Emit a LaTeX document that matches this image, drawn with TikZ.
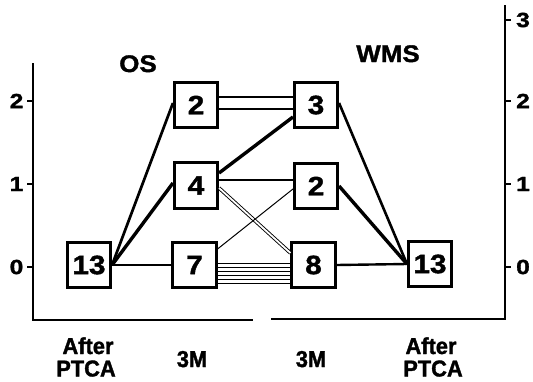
\documentclass[tikz,border=0pt]{standalone}
\usepackage{fontspec}
\setmainfont{Liberation Sans}
\newfontfamily\countfont[FakeStretch=1.12,FakeBold=1.5]{Liberation Sans}
\newfontfamily\tickfont[FakeStretch=1.2,FakeBold=1.5]{Liberation Sans}
\newfontfamily\titlefont[FakeStretch=1.08,FakeBold=1.5]{Liberation Sans}
\newfontfamily\capfont[FakeStretch=0.95,FakeBold=1.5]{Liberation Sans}
\begin{document}
\begin{tikzpicture}[x=1pt,y=-1pt,
  box/.style={draw,fill=white,line width=2.6pt,minimum width=43.5pt,minimum height=45.5pt,
    inner sep=0pt,font=\countfont\fontsize{26.5}{26.5}\selectfont\bfseries},
  axis/.style={line width=2.6pt},
  tick/.style={line width=2pt},
  ticklbl/.style={inner sep=0pt,font=\tickfont\fontsize{20.5}{20.5}\selectfont\bfseries},
  title/.style={inner sep=0pt,anchor=base,font=\titlefont\fontsize{24}{24}\selectfont\bfseries},
  caption/.style={inner sep=0pt,anchor=base,font=\capfont\fontsize{23}{23}\selectfont\bfseries},
  thick link/.style={line width=3.4pt},
  mid link/.style={line width=2.4pt},
  thin link/.style={line width=1pt}]
\useasboundingbox (0,0) rectangle (533,381);

% left axis (OS)
\draw[axis] (33,63) -- (33,320) -- (253,320);
\foreach \yy/\lab in {101/2,184/1,267/0}{
  \draw[tick] (27,\yy) -- (33,\yy);
  \node[ticklbl] at (16.5,\yy) {\lab};
}
% right axis (WMS)
\draw[axis] (271,319) -- (505,319) -- (505,5);
\foreach \yy/\lab in {20/3,101/2,184/1,267/0}{
  \draw[tick] (505,\yy) -- (511,\yy);
  \node[ticklbl] at (523,\yy) {\lab};
}

% group titles and time points
\node[title] (tos) at (138,72) {OS};
\node[title] (twms) at (388,62) {WMS};
\node[caption] (a1) at (88,354) {After};
\node[caption] (p1) at (86,376.5) {PTCA};
\node[caption] (m1) at (192,367) {3M};
\node[caption] (m2) at (311,367) {3M};
\node[caption] (a2) at (431,354) {After};
\node[caption] (p2) at (433,376.5) {PTCA};

% patient counts
\node[box] (l13) at (89,265) {13};
\node[box] (o2) at (196,105) {2};
\node[box] (o4) at (196,185.5) {4};
\node[box] (o7) at (194.5,265) {7};
\node[box] (w3) at (316,105) {3};
\node[box] (w2) at (316,186) {2};
\node[box] (w8) at (313.5,265) {8};
\node[box] (r13) at (430,264) {13};

% After PTCA -> OS 3M
\draw[mid link,line width=2.7pt] (l13.east) -- ([yshift=2pt]o2.west);
\draw[thick link] (l13.east) -- ([yshift=2.5pt]o4.west);
\draw[mid link] (l13.east) -- (o7.west);

% OS 3M -> WMS 3M
\draw[line width=2pt] ([yshift=8pt]o2.east) -- ([yshift=8pt]w3.west);
\draw[line width=2pt] ([yshift=-4pt]o2.east) -- ([yshift=-4pt]w3.west);
\draw[thick link] ([yshift=12.5pt]o4.east) -- ([yshift=-12pt]w3.west);
\draw[mid link] ([yshift=5.5pt]o4.east) -- ([yshift=6pt]w2.west);
\draw[line width=0.9pt,double,double distance=1.8pt] ([yshift=-2.5pt]o4.east) -- ([yshift=12pt]w8.west);
\draw[thin link] ([yshift=16pt]o7.east) -- ([yshift=-3pt]w2.west);
\foreach \dy in {2,-2,-6,-10,-14,-18}
  \draw[thin link] ([yshift=\dy pt]o7.east) -- ([yshift=\dy pt]w8.west);

% WMS 3M -> After PTCA
\draw[mid link,line width=2.6pt] ([yshift=2pt]w3.east) -- (r13.west);
\draw[thick link] (w2.east) -- (r13.west);
\draw[mid link] (w8.east) -- (r13.west);
\end{tikzpicture}
\end{document}
